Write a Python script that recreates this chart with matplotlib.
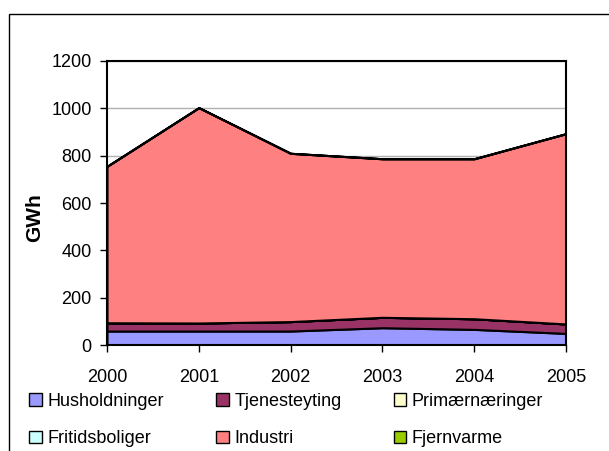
import matplotlib.pyplot as plt
from matplotlib.patches import Rectangle, Patch

plt.rcParams['font.family'] = ['Liberation Sans', 'DejaVu Sans']

years = [2000, 2001, 2002, 2003, 2004, 2005]
husholdninger = [59, 59, 59, 73, 66, 49]
tjenesteyting = [35, 34, 40, 44, 45, 40]
primaernaeringer = [0, 0, 0, 0, 0, 0]
fritidsboliger = [0, 0, 0, 0, 0, 0]
industri = [661, 910, 711, 670, 676, 804]
fjernvarme = [0, 0, 0, 0, 0, 0]

names = ['Husholdninger', 'Tjenesteyting', 'Primærnæringer',
         'Fritidsboliger', 'Industri', 'Fjernvarme']
colors = ['#9999FF', '#993366', '#FFFFCC', '#CCFFFF', '#FF8080', '#99CC00']

fig = plt.figure(figsize=(6.09, 4.51), dpi=100)
ax = fig.add_axes([107/609, 1 - 345/451, (566 - 107)/609, (345 - 61)/451])

ax.stackplot(years, husholdninger, tjenesteyting, primaernaeringer,
             fritidsboliger, industri, fjernvarme,
             colors=colors, edgecolor='black', linewidth=1.5)

ax.set_xlim(2000, 2005)
ax.set_ylim(0, 1200)
ax.set_yticks(range(0, 1201, 200))
ax.set_xticks(years)
ax.yaxis.grid(True, color='#b0b0b0', linewidth=1)
ax.set_axisbelow(True)
for s in ax.spines.values():
    s.set_linewidth(1.5)
    s.set_color('black')
ax.tick_params(axis='both', direction='out', length=5, width=1, labelsize=13)
ax.tick_params(axis='x', pad=12)
ax.tick_params(axis='y', pad=6)
ax.set_ylabel('GWh', fontsize=15, fontweight='bold')
ax.yaxis.set_label_coords(-0.137, 0.447)

# outer chart frame
fig.patches.append(Rectangle((9/609, -0.1), 1.2, 1 - 14/451 + 0.1,
                             transform=fig.transFigure, fill=False,
                             edgecolor='black', linewidth=1))

order = [0, 3, 1, 4, 2, 5]
handles = [Patch(facecolor=colors[i], edgecolor='black', linewidth=1) for i in order]
labels = [names[i] for i in order]
fig.legend(handles, labels, ncol=3, loc='lower left',
           bbox_to_anchor=(22/609, -0.008), frameon=False, fontsize=13,
           handlelength=0.7, handleheight=0.7, handletextpad=0.3,
           columnspacing=2.9, labelspacing=1.15, borderaxespad=0.0)

fig.savefig('out.png', dpi=100)
